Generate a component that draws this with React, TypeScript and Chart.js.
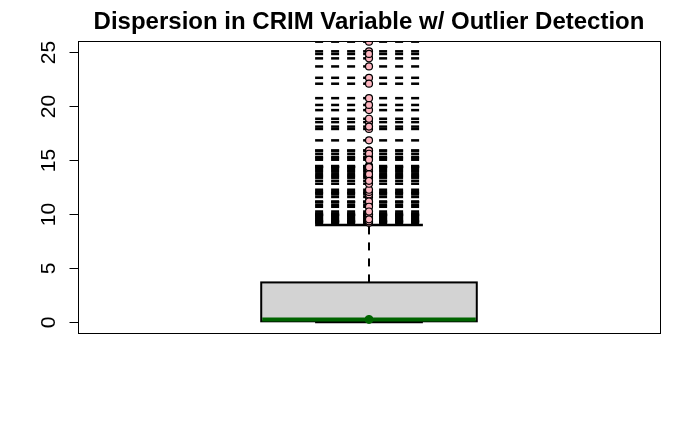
import React, { useEffect, useRef } from "react";
import { Chart, registerables } from "chart.js";

Chart.register(...registerables);

const TITLE = "Dispersion in CRIM Variable w/ Outlier Detection";
const yTicks = [0, 5, 10, 15, 20, 25];
// [lower whisker, Q1, median, Q3, upper whisker]
const boxStats = [0.00632, 0.08205, 0.25651, 3.67708, 8.98296];
const medianPoint = [0.25651];
const outliers = [
  13.5222, 9.2323, 11.1081, 18.4982, 19.6091, 15.288, 9.82349, 23.6482, 17.8667, 88.9762,
  15.8744, 9.18702, 20.0849, 16.8118, 24.3938, 22.5971, 14.3337, 11.5779, 13.3598, 38.3518,
  9.91655, 25.0461, 14.2362, 9.59571, 24.8017, 41.5292, 67.9208, 20.7162, 11.9511, 14.4383,
  51.1358, 14.0507, 18.811, 28.6558, 45.7461, 18.0846, 10.8342, 25.9406, 73.5341, 11.8123,
  11.0874, 12.0482, 15.8603, 12.2472, 37.6619, 9.33889, 10.0623, 13.9134, 11.1604, 14.4208,
  15.1772, 13.6781, 9.39063, 22.0511, 9.72418, 9.96654, 12.8023, 10.6718, 9.92485, 9.32909,
  9.51363, 15.5757, 13.0751, 15.0234, 10.233, 14.3337,
];

const BOX_CENTER = 1;
const BOX_HALF = 0.2;
const STAPLE_HALF = 0.1;

const boxPlugin = {
  id: "boxPlugin",
  beforeDatasetsDraw(chart: any) {
    const { ctx, chartArea, scales } = chart;
    const xs = scales.x;
    const ys = scales.y;
    const [lo, q1, med, q3, hi] = boxStats;
    const cx = xs.getPixelForValue(BOX_CENTER);
    ctx.save();
    ctx.beginPath();
    ctx.rect(chartArea.left, chartArea.top, chartArea.right - chartArea.left, chartArea.bottom - chartArea.top);
    ctx.clip();
    ctx.strokeStyle = "#000";
    ctx.lineWidth = 2;
    ctx.lineCap = "butt";
    // whiskers
    ctx.setLineDash([8, 8]);
    ctx.beginPath();
    ctx.moveTo(cx, ys.getPixelForValue(q3));
    ctx.lineTo(cx, ys.getPixelForValue(hi));
    ctx.stroke();
    ctx.beginPath();
    ctx.moveTo(cx, ys.getPixelForValue(q1));
    ctx.lineTo(cx, ys.getPixelForValue(lo));
    ctx.stroke();
    ctx.setLineDash([]);
    // staples
    const sl = xs.getPixelForValue(BOX_CENTER - STAPLE_HALF);
    const sr = xs.getPixelForValue(BOX_CENTER + STAPLE_HALF);
    ctx.lineWidth = 2.5;
    for (const v of [lo, hi]) {
      const y = ys.getPixelForValue(v);
      ctx.beginPath();
      ctx.moveTo(sl, y);
      ctx.lineTo(sr, y);
      ctx.stroke();
    }
    ctx.lineWidth = 2;
    // box
    const bl = xs.getPixelForValue(BOX_CENTER - BOX_HALF);
    const br = xs.getPixelForValue(BOX_CENTER + BOX_HALF);
    const bt = ys.getPixelForValue(q3);
    const bb = ys.getPixelForValue(q1);
    ctx.fillStyle = "#D3D3D3";
    ctx.fillRect(bl, bt, br - bl, bb - bt);
    ctx.strokeRect(bl, bt, br - bl, bb - bt);
    // median
    ctx.strokeStyle = "#006400";
    ctx.lineWidth = 4;
    ctx.beginPath();
    ctx.moveTo(bl + 1, ys.getPixelForValue(med));
    ctx.lineTo(br - 1, ys.getPixelForValue(med));
    ctx.stroke();
    ctx.restore();
  },
  afterDraw(chart: any) {
    const { ctx, chartArea, scales } = chart;
    const ys = scales.y;
    ctx.save();
    ctx.strokeStyle = "#000";
    ctx.lineWidth = 1;
    ctx.setLineDash([]);
    ctx.strokeRect(chartArea.left + 0.5, chartArea.top + 0.5, chartArea.right - chartArea.left, chartArea.bottom - chartArea.top);
    // y axis
    const x0 = chartArea.left + 0.5;
    ctx.beginPath();
    ctx.moveTo(x0, Math.round(ys.getPixelForValue(yTicks[0])) + 0.5);
    ctx.lineTo(x0, Math.round(ys.getPixelForValue(yTicks[yTicks.length - 1])) + 0.5);
    ctx.stroke();
    ctx.fillStyle = "#000";
    ctx.font = '21px "Liberation Sans", Arial, sans-serif';
    ctx.textAlign = "center";
    ctx.textBaseline = "middle";
    for (const t of yTicks) {
      const y = Math.round(ys.getPixelForValue(t)) + 0.5;
      ctx.beginPath();
      ctx.moveTo(x0 - 9, y);
      ctx.lineTo(x0, y);
      ctx.stroke();
      ctx.save();
      ctx.translate(48, y);
      ctx.rotate(-Math.PI / 2);
      ctx.fillText(String(t), 0, 1);
      ctx.restore();
    }
    // title
    ctx.font = 'bold 24px "Liberation Sans", Arial, sans-serif';
    ctx.textAlign = "center";
    ctx.textBaseline = "alphabetic";
    ctx.fillText(TITLE, 369, 29);
    ctx.restore();
  },
};

export default function App() {
  const ref = useRef<HTMLCanvasElement | null>(null);
  useEffect(() => {
    if (!ref.current) return;
    const datasets: any[] = [];
    datasets.push({
      type: "scatter",
      label: "median",
      data: medianPoint.map((v) => ({ x: BOX_CENTER, y: v })),
      pointRadius: 4,
      pointBackgroundColor: "#006400",
      pointBorderColor: "#006400",
      pointBorderWidth: 1,
    });
    datasets.push({
      type: "scatter",
      label: "outliers",
      data: outliers.map((v) => ({ x: BOX_CENTER, y: v })),
      pointRadius: 3.5,
      pointBackgroundColor: "#FFB6C1",
      pointBorderColor: "#000",
      pointBorderWidth: 1.2,
    });
    outliers.forEach((v, i) => {
      datasets.push({
        type: "line",
        label: "dash" + i,
        data: [
          { x: BOX_CENTER - STAPLE_HALF, y: v },
          { x: BOX_CENTER + STAPLE_HALF, y: v },
        ],
        borderColor: "#000",
        borderWidth: 2.5,
        borderDash: [8, 8],
        pointRadius: 0,
        fill: false,
      });
    });
    const chart = new Chart(ref.current, {
      type: "scatter",
      data: { datasets },
      options: {
        animation: false,
        responsive: false,
        devicePixelRatio: 1,
        layout: { padding: { left: 78, right: 40, top: 41, bottom: 99 } },
        plugins: { legend: { display: false }, tooltip: { enabled: false }, title: { display: false } },
        scales: {
          x: { type: "linear", min: 0.46, max: 1.54, display: false },
          y: { type: "linear", min: -1, max: 26, display: false },
        },
      },
      plugins: [boxPlugin],
    });
    return () => chart.destroy();
  }, []);
  return (
    <div style={{ position: "fixed", left: 0, top: 0, width: 700, height: 432, background: "#fff" }}>
      <canvas ref={ref} width={700} height={432} style={{ width: 700, height: 432 }} />
    </div>
  );
}
